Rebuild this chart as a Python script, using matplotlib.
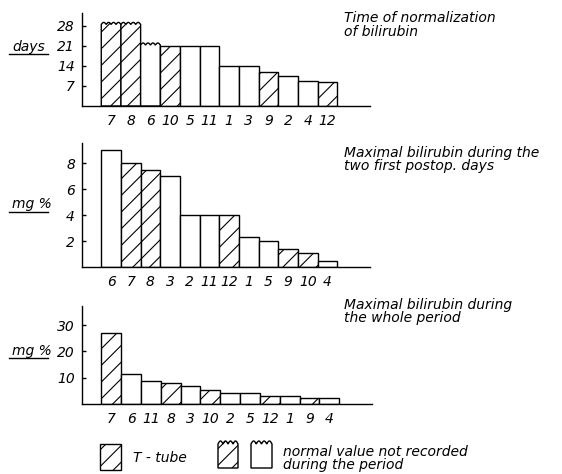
import numpy as np
import matplotlib.pyplot as plt
from matplotlib.patches import Rectangle, Polygon

# panel 1: time of normalization of bilirubin (days)
p1_labels = ['7', '8', '6', '10', '5', '11', '1', '3', '9', '2', '4', '12']
p1_values = [28.5, 28.5, 21.3, 21, 21, 21, 14, 14, 11.9, 10.4, 8.9, 8.3]
p1_ttube = [1, 1, 0, 1, 0, 0, 0, 0, 1, 0, 0, 1]
p1_notrec = [1, 1, 1, 0, 0, 0, 0, 0, 0, 0, 0, 0]
p1_ticks = [7, 14, 21, 28]

# panel 2: maximal bilirubin during the two first postop. days (mg %)
p2_labels = ['6', '7', '8', '3', '2', '11', '12', '1', '5', '9', '10', '4']
p2_values = [9.0, 8.0, 7.5, 7.0, 4.0, 4.0, 4.0, 2.3, 2.0, 1.4, 1.1, 0.5]
p2_ttube = [0, 1, 1, 0, 0, 0, 1, 0, 0, 1, 1, 0]
p2_ticks = [2, 4, 6, 8]

# panel 3: maximal bilirubin during the whole period (mg %)
p3_labels = ['7', '6', '11', '8', '3', '10', '2', '5', '12', '1', '9', '4']
p3_values = [27.0, 11.5, 8.7, 7.9, 7.0, 5.2, 4.0, 4.0, 3.0, 3.0, 2.1, 2.1]
p3_ttube = [1, 0, 0, 1, 0, 1, 0, 0, 1, 0, 1, 0]
p3_ticks = [10, 20, 30]

LW = 1.0
FS = 10
plt.rcParams['font.family'] = 'DejaVu Sans'
plt.rcParams['font.style'] = 'italic'
plt.rcParams['hatch.linewidth'] = 0.8

W, H = 562, 474


def wavy_poly(x0, x1, y0, h, amp, n=4):
    xs = np.linspace(x0, x1, 81)
    top = h + amp * np.abs(np.sin(np.pi * n * (xs - x0) / (x1 - x0)))
    return [(x0, y0)] + list(zip(xs, top)) + [(x1, y0)]


def panel(rect, labels, values, ttube, notrec, ticks, ymax):
    ax = fig.add_axes(rect)
    amp = ymax * 0.022
    for i, v in enumerate(values):
        hatch = '//' if ttube[i] else None
        if notrec[i]:
            ax.add_patch(Polygon(wavy_poly(i - 0.5, i + 0.5, 0, v, amp), closed=True,
                                 facecolor='white', edgecolor='black', hatch=hatch, lw=LW))
        else:
            ax.bar(i, v, width=1, color='white', edgecolor='black', hatch=hatch, lw=LW)
    ax.set_xlim(-1.48, 13.16)
    ax.set_ylim(0, ymax)
    ax.spines['top'].set_visible(False)
    ax.spines['right'].set_visible(False)
    ax.spines['left'].set_linewidth(LW)
    ax.spines['bottom'].set_linewidth(LW)
    ax.set_xticks(range(len(labels)), labels, fontsize=FS)
    ax.set_yticks(ticks, [str(t) for t in ticks], fontsize=FS)
    ax.tick_params(axis='x', length=0, pad=6)
    ax.tick_params(axis='y', direction='in', length=3, width=LW, pad=5)
    ax.patch.set_alpha(0)
    return ax


def frac(x0, y0, x1, y1):
    # pixel box (top-left origin) -> figure fraction rect
    return [x0 / W, 1 - y1 / H, (x1 - x0) / W, (y1 - y0) / H]


fig = plt.figure(figsize=(W / 100, H / 100), dpi=100)

panel(frac(82, 13, 370, 106), p1_labels, p1_values, p1_ttube, p1_notrec, p1_ticks, 32.5)
panel(frac(82, 143, 370, 267), p2_labels, p2_values, p2_ttube, [0] * 12, p2_ticks, 9.54)
panel(frac(82, 306, 372, 404), p3_labels, p3_values, p3_ttube, [0] * 12, p3_ticks, 37.3)

# overlay in pixel coordinates for labels, titles and legend
ov = fig.add_axes([0, 0, 1, 1])
ov.set_xlim(0, W)
ov.set_ylim(H, 0)
ov.axis('off')
ov.patch.set_alpha(0)

tkw = dict(fontsize=FS, ha='left', va='center')
mkw = dict(tkw, linespacing=0.92)
ov.text(344, 25, 'Time of normalization\nof bilirubin', **mkw)
ov.text(344, 159.5, 'Maximal bilirubin during the\ntwo first postop. days', **mkw)
ov.text(344, 311.5, 'Maximal bilirubin during\nthe whole period', **mkw)

for txt, yt, yl in [('days', 47, 54), ('mg %', 204, 212), ('mg %', 351, 358)]:
    ov.text(12, yt, txt, **tkw)
    ov.plot([9, 48], [yl, yl], color='black', lw=1.0)

# legend
ov.add_patch(Rectangle((100, 444), 21, 26, facecolor='white', edgecolor='black', hatch='//', lw=LW))
ov.text(133, 458, 'T - tube', **tkw)
ov.add_patch(Polygon(wavy_poly(218, 238, 468, 444, -3), closed=True,
                     facecolor='white', edgecolor='black', hatch='//', lw=LW))
ov.add_patch(Polygon(wavy_poly(251, 272, 468, 444, -3), closed=True,
                     facecolor='white', edgecolor='black', lw=LW))
ov.text(283, 458.5, 'normal value not recorded\nduring the period', **mkw)

fig.savefig('out.png', dpi=100)
